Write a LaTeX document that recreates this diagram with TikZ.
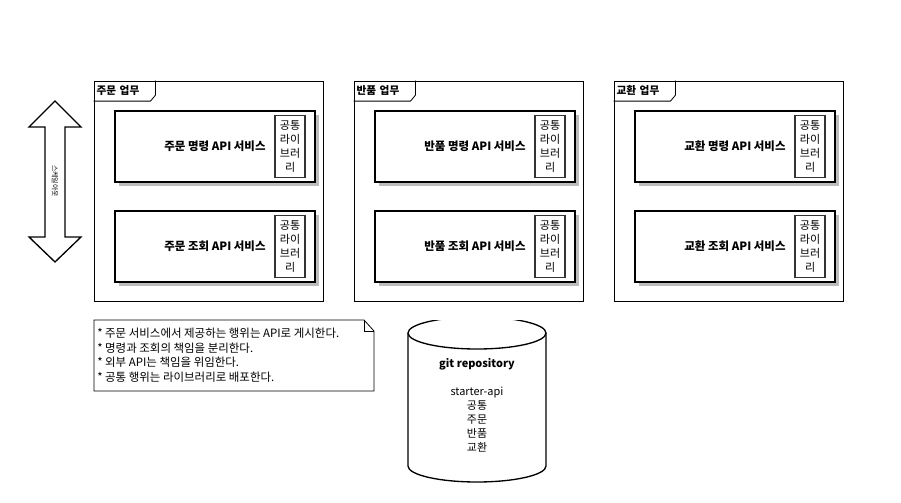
\documentclass[tikz,border=0pt]{standalone}
\usepackage{fontspec}
\setmainfont{Noto Sans CJK KR}
\usetikzlibrary{positioning,calc,shadows}
\definecolor{shadowgray}{HTML}{BDBDBD}
\definecolor{libgray}{HTML}{333333}

\begin{document}
\begin{tikzpicture}[
    x=0.75pt, y=-0.75pt,
    frame/.style={draw, line width=0.6pt, minimum width=171.75pt, minimum height=165pt, inner sep=0pt},
    tab/.style={font=\bfseries\fontsize{8}{9}\selectfont, text width=42pt, inner xsep=2pt, inner ysep=0pt, minimum height=15pt, align=left},
    svc/.style={draw, line width=1.4pt, fill=white, minimum width=150pt, minimum height=53.25pt,
      font=\bfseries\fontsize{8.6}{9}\selectfont,
      drop shadow={shadow xshift=3pt, shadow yshift=-3pt, fill=shadowgray, opacity=1}},
    lib/.style={draw=libgray, line width=1.2pt, minimum width=22.5pt, minimum height=46.5pt, inner sep=1pt,
      align=center, font=\fontsize{8.3}{10.6}\selectfont},
    outline/.style={draw, line width=1pt},
    txt/.style={font=\fontsize{8.6}{10.9}\selectfont, inner sep=0pt}
  ]
  \useasboundingbox (0,0) rectangle (901,503);

  % Domains
  \foreach \dx/\nm/\id in {0/주문/ord,260/반품/ret,520/교환/exc}{
    \node[frame] (f\id) at (208.5+\dx,191) {};
    \node[tab, anchor=north west] (t\id) at (f\id.north west) {\nm\ 업무};
    \draw[line width=0.6pt] (t\id.north east) -- ($(t\id.south east)+(0,-6)$)
      -- ($(t\id.south east)+(-5,0)$) -- (t\id.south west);
    \node[svc] (c\id) at (215+\dx,146.5) {\nm\ 명령 API 서비스};
    \node[lib, left=7.5pt of c\id.east] (lc\id) {공통\\라이\\브러\\리};
    \node[svc] (q\id) at (215+\dx,246.5) {\nm\ 조회 API 서비스};
    \node[lib, left=7.5pt of q\id.east] (lq\id) {공통\\라이\\브러\\리};
  }

  % Scale-out arrow
  \draw[outline] (55,101) -- (81,127) -- (65,127) -- (65,237) -- (81,237) -- (55,262)
    -- (29,237) -- (45,237) -- (45,127) -- (29,127) -- cycle;
  \node[rotate=-90, font=\fontsize{5.2}{5.5}\selectfont, inner sep=0pt] (scaleout) at (55,181) {스케일아웃};

  % Note
  \draw[line width=0.6pt] (94,320) -- (364,320) -- (374,331) -- (374,391) -- (94,391) -- cycle;
  \draw[line width=0.6pt] (364,320) -- (364,331) -- (374,331);
  \node[txt, anchor=north west, align=left] (memo) at (97,328) {%
    * 주문 서비스에서 제공하는 행위는 API로 게시한다.\\
    * 명령과 조회의 책임을 분리한다.\\
    * 외부 API는 책임을 위임한다.\\
    * 공통 행위는 라이브러리로 배포한다.};

  % Repository
  \begin{scope}
    \clip (400,320) rectangle (560,360);
    \draw[outline] (477,333) ellipse [x radius=69, y radius=16];
  \end{scope}
  \draw[outline] (408,333) -- (408,466) arc[start angle=180, end angle=0, x radius=69, y radius=16] -- (546,333);
  \node[txt, align=center, font=\fontsize{8.2}{10.5}\selectfont] (repo) at (477,405) {%
    \textbf{git repository}\\[10.5pt]starter-api\\공통\\주문\\반품\\교환};
\end{tikzpicture}
\end{document}
